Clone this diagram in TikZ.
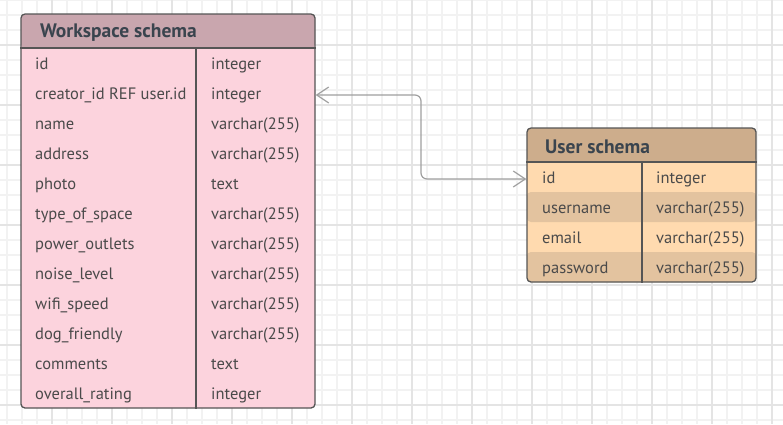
\documentclass[tikz,border=0pt]{standalone}
\usepackage{fontspec}
\setmainfont{PT Sans}
\usetikzlibrary{arrows.meta}
\definecolor{wshead}{HTML}{C9A6AE}
\definecolor{wsbody}{HTML}{FCD3DD}
\definecolor{ushead}{HTML}{CDAD8C}
\definecolor{uslight}{HTML}{FFDAAF}
\definecolor{usdark}{HTML}{E3C39F}
\definecolor{ink}{HTML}{4A4A4A}
\definecolor{headink}{HTML}{3A444E}
\definecolor{edge}{HTML}{555555}
\definecolor{minorgrid}{HTML}{F2F2F2}
\definecolor{majorgrid}{HTML}{E4E4E4}

\begin{document}
\begin{tikzpicture}[x=1pt, y=-1pt,
  minor/.style={draw=minorgrid, line width=1.2pt},
  major/.style={draw=majorgrid, line width=1.2pt},
  table/.style={draw=edge, line width=1.3pt, rounded corners=4pt, inner sep=0pt},
  title/.style={anchor=west, inner sep=0pt, text=headink, font=\fontsize{19.5}{19.5}\selectfont\bfseries},
  cell/.style={anchor=west, inner sep=0pt, text height=12pt, text depth=4pt, text=ink, font=\fontsize{16.5}{16.5}\selectfont},
  rule/.style={draw=edge, line width=1.3pt},
  link/.style={draw=gray!75, line width=1.2pt, rounded corners=6pt,
    {Straight Barb[length=12pt,width=16pt]}-{Straight Barb[length=12pt,width=16pt]}}]

  \useasboundingbox (0,0) rectangle (783,424);
  \fill[white] (0,0) rectangle (783,424);
  \foreach \x in {7,22,...,783} \draw[minor] (\x,0) -- (\x,424);
  \foreach \y in {0,15,...,424} \draw[minor] (0,\y) -- (783,\y);
  \foreach \x in {52,112,...,783} \draw[major] (\x,0) -- (\x,424);
  \foreach \y in {45,105,...,424} \draw[major] (0,\y) -- (783,\y);

  % workspace table
  \node[table, minimum width=294pt, minimum height=394pt, fill=wsbody,
    path picture={\fill[wshead] (path picture bounding box.north west) rectangle ([yshift=-34pt]path picture bounding box.north east);}]
    (ws) at (168,211) {};
  \node[title] (wstitle) at (40,33) {Workspace schema};
  \draw[rule] (ws.west |- 0,48) -- (ws.east |- 0,48);
  \draw[rule] (196,48) -- (196,0 |- ws.south);
  \foreach \k/\t [count=\i] in {id/integer, creator\_id REF user.id/integer, name/varchar(255),
      address/varchar(255), photo/text, type\_of\_space/varchar(255), power\_outlets/varchar(255),
      noise\_level/varchar(255), wifi\_speed/varchar(255), dog\_friendly/varchar(255),
      comments/text, overall\_rating/integer} {
    \node[cell] (wsk\i) at (35,35+30*\i) {\k};
    \node[cell] (wst\i) at (211,35+30*\i) {\t};
  }

  % user table
  \node[table, minimum width=229pt, minimum height=154pt, fill=uslight,
    path picture={
      \fill[ushead] (path picture bounding box.north west) rectangle ([yshift=-34pt]path picture bounding box.north east);
      \fill[usdark] ([yshift=-64pt]path picture bounding box.north west) rectangle ([yshift=-94pt]path picture bounding box.north east);
      \fill[usdark] ([yshift=-124pt]path picture bounding box.north west) rectangle (path picture bounding box.south east);}]
    (us) at (641.5,205) {};
  \node[title] (ustitle) at (545,147) {User schema};
  \draw[rule] (us.west |- 0,162) -- (us.east |- 0,162);
  \draw[rule] (642,162) -- (642,0 |- us.south);
  \foreach \k/\t [count=\i] in {id/integer, username/varchar(255), email/varchar(255), password/varchar(255)} {
    \node[cell] (usk\i) at (542,149+30*\i) {\k};
    \node[cell] (ust\i) at (656,149+30*\i) {\t};
  }

  \coordinate (bend) at (421,0);
  \draw[link] (ws.east |- wsk2) -| (bend |- usk1) -- (us.west |- usk1);
\end{tikzpicture}
\end{document}
